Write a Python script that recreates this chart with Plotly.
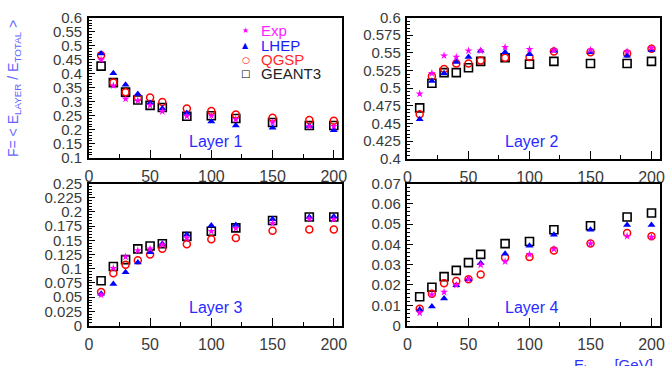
import plotly.graph_objects as go

energy = [10, 20, 30, 40, 50, 60, 80, 100, 120, 150, 180, 200]

l1_exp = [0.449, 0.357, 0.310, 0.304, 0.287, 0.265, 0.248, 0.250, 0.237, 0.226, 0.212, 0.212]
l1_lhep = [0.472, 0.401, 0.360, 0.327, 0.295, 0.276, 0.260, 0.229, 0.215, 0.207, 0.213, 0.198]
l1_qgsp = [0.466, 0.368, 0.334, 0.315, 0.315, 0.299, 0.276, 0.267, 0.254, 0.243, 0.235, 0.232]
l1_g3 = [0.427, 0.368, 0.334, 0.306, 0.287, 0.279, 0.248, 0.250, 0.240, 0.226, 0.215, 0.215]

l2_exp = [0.492, 0.521, 0.546, 0.544, 0.553, 0.553, 0.558, 0.555, 0.554, 0.554, 0.552, 0.557]
l2_lhep = [0.456, 0.510, 0.521, 0.537, 0.544, 0.553, 0.551, 0.548, 0.553, 0.551, 0.546, 0.554]
l2_qgsp = [0.463, 0.517, 0.527, 0.535, 0.535, 0.539, 0.543, 0.544, 0.552, 0.551, 0.549, 0.556]
l2_g3 = [0.472, 0.507, 0.522, 0.522, 0.529, 0.538, 0.543, 0.534, 0.538, 0.535, 0.535, 0.538]

l3_exp = [0.054, 0.101, 0.121, 0.132, 0.135, 0.142, 0.154, 0.166, 0.171, 0.180, 0.188, 0.187]
l3_lhep = [0.056, 0.073, 0.094, 0.111, 0.129, 0.144, 0.160, 0.176, 0.177, 0.187, 0.191, 0.192]
l3_qgsp = [0.059, 0.092, 0.107, 0.115, 0.125, 0.135, 0.143, 0.152, 0.154, 0.167, 0.169, 0.169]
l3_g3 = [0.079, 0.104, 0.116, 0.135, 0.140, 0.144, 0.157, 0.166, 0.172, 0.185, 0.191, 0.191]

l4_exp = [0.0063, 0.0153, 0.0165, 0.0199, 0.0228, 0.0299, 0.0315, 0.0351, 0.0377, 0.0404, 0.0440, 0.0436]
l4_lhep = [0.0079, 0.0094, 0.0134, 0.0199, 0.0228, 0.0307, 0.0354, 0.0393, 0.0448, 0.0472, 0.0496, 0.0496]
l4_qgsp = [0.0083, 0.0157, 0.0209, 0.0220, 0.0228, 0.0252, 0.0335, 0.0338, 0.0370, 0.0404, 0.0456, 0.0440]
l4_g3 = [0.0142, 0.0189, 0.0241, 0.0272, 0.0310, 0.0351, 0.0404, 0.0414, 0.0472, 0.0492, 0.0535, 0.0555]

layer_names = ["Layer 1", "Layer 2", "Layer 3", "Layer 4"]
series_names = ["Exp", "LHEP", "QGSP", "GEANT3"]
y_ranges = [[0.1, 0.6], [0.4, 0.6], [0.0, 0.25], [0.0, 0.07]]
y_dticks = [0.05, 0.025, 0.025, 0.01]
y_minor = [0.01, 0.005, 0.005, 0.002]
label_pos = [(103, 0.159), (102, 0.425), (103, 0.031), (102, 0.0087)]

W, H = 668, 366
def px_x(p): return p / W
def px_y(p): return 1 - p / H

panels = [
    ([86, 343], [9, 156]),
    ([409, 665], [9, 157]),
    ([86, 343], [183, 332]),
    ([409, 665], [183, 332]),
]

data = [
    (l1_exp, l1_lhep, l1_qgsp, l1_g3),
    (l2_exp, l2_lhep, l2_qgsp, l2_g3),
    (l3_exp, l3_lhep, l3_qgsp, l3_g3),
    (l4_exp, l4_lhep, l4_qgsp, l4_g3),
]

styles = {
    "GEANT3": dict(symbol="square-open", size=8, color="#000000", line=dict(width=1.6, color="#000000")),
    "QGSP": dict(symbol="circle-open", size=7, color="#ff0000", line=dict(width=1.5, color="#ff0000")),
    "LHEP": dict(symbol="triangle-up", size=7, color="#0000ff", line=dict(width=0)),
    "Exp": dict(symbol="star", size=6, color="#ff00ff", line=dict(width=0)),
}
legend_colors = {"Exp": "#ff22ff", "LHEP": "#1a1aff", "QGSP": "#ff2a2a", "GEANT3": "#222222"}
legend_glyphs = {"Exp": ("★", 8), "LHEP": ("▲", 8), "QGSP": ("○", 9), "GEANT3": ("□", 10)}

fig = go.Figure()
for i, (exp, lhep, qgsp, g3) in enumerate(data):
    sfx = "" if i == 0 else str(i + 1)
    series = {"Exp": exp, "LHEP": lhep, "QGSP": qgsp, "GEANT3": g3}
    for name in ["GEANT3", "QGSP", "LHEP", "Exp"]:
        fig.add_trace(go.Scatter(
            x=energy, y=series[name], mode="markers",
            marker=styles[name], name=name, showlegend=False,
            xaxis="x" + sfx, yaxis="y" + sfx, cliponaxis=False,
        ))

xtickfont = dict(family="Liberation Sans, Arial, sans-serif", size=16, color="#3a3a3a")
ytickfont = dict(family="Liberation Sans, Arial, sans-serif", size=15, color="#3a3a3a")
layout = dict(
    width=W, height=H, margin=dict(l=0, r=0, t=0, b=0),
    paper_bgcolor="white", plot_bgcolor="white",
    showlegend=False,
)
annotations = []
for i, ((xd, yd), yr, dt, mn, lp, ln) in enumerate(zip(panels, y_ranges, y_dticks, y_minor, label_pos, layer_names)):
    sfx = "" if i == 0 else str(i + 1)
    layout["xaxis" + sfx] = dict(
        domain=[px_x(xd[0]), px_x(xd[1])], range=[0, 207], anchor="y" + sfx,
        showline=True, linecolor="black", linewidth=1.5, mirror=True,
        ticks="inside", ticklen=8, tickwidth=1.2, tickcolor="black", dtick=50, tick0=0,
        minor=dict(ticks="inside", ticklen=4, dtick=25, tickcolor="black", tickwidth=1.2),
        showgrid=False, zeroline=False, tickfont=xtickfont, ticklabelstandoff=3,
    )
    layout["yaxis" + sfx] = dict(
        domain=[px_y(yd[1]), px_y(yd[0])], range=yr, anchor="x" + sfx,
        showline=True, linecolor="black", linewidth=1.5, mirror=True,
        ticks="inside", ticklen=6, tickwidth=1.2, tickcolor="black", dtick=dt, tick0=0,
        minor=dict(ticks="inside", ticklen=3, dtick=mn, tickcolor="black", tickwidth=1),
        showgrid=False, zeroline=False, tickfont=ytickfont, ticklabelstandoff=2,
    )
    annotations.append(dict(
        x=lp[0], y=lp[1], xref="x" + sfx, yref="y" + sfx, text=ln, showarrow=False,
        font=dict(family="Liberation Sans, Arial, sans-serif", size=16, color="#2a2aff"),
        xanchor="center", yanchor="middle",
    ))

# legend (ROOT-style box without border), rows 15 px apart
for k, name in enumerate(series_names):
    row_y = 23 + 15 * k
    glyph, gsize = legend_glyphs[name]
    annotations.append(dict(
        x=px_x(245), y=px_y(row_y), xref="paper", yref="paper", text=glyph, showarrow=False,
        font=dict(family="DejaVu Sans", size=gsize, color=styles[name]["color"]),
        xanchor="center", yanchor="middle",
    ))
    annotations.append(dict(
        x=px_x(258), y=px_y(row_y), xref="paper", yref="paper", text=name, showarrow=False,
        font=dict(family="Liberation Sans, Arial, sans-serif", size=15, color=legend_colors[name]),
        xanchor="left", yanchor="middle",
    ))

annotations.append(dict(
    x=px_x(10), y=px_y(83), xref="paper", yref="paper", textangle=-90,
    text="F= < E<sub>LAYER</sub> / E<sub>TOTAL</sub> >", showarrow=False,
    font=dict(family="Liberation Sans, Arial, sans-serif", size=14, color="#6464ff"),
    xanchor="center", yanchor="middle",
))
annotations.append(dict(
    x=px_x(576), y=px_y(362), xref="paper", yref="paper",
    text="E<sub>beam</sub> [GeV]", showarrow=False,
    font=dict(family="Liberation Sans, Arial, sans-serif", size=15, color="#3030ff"),
    xanchor="left", yanchor="top",
))
layout["annotations"] = annotations
fig.update_layout(**layout)
fig.write_html("out.html")
